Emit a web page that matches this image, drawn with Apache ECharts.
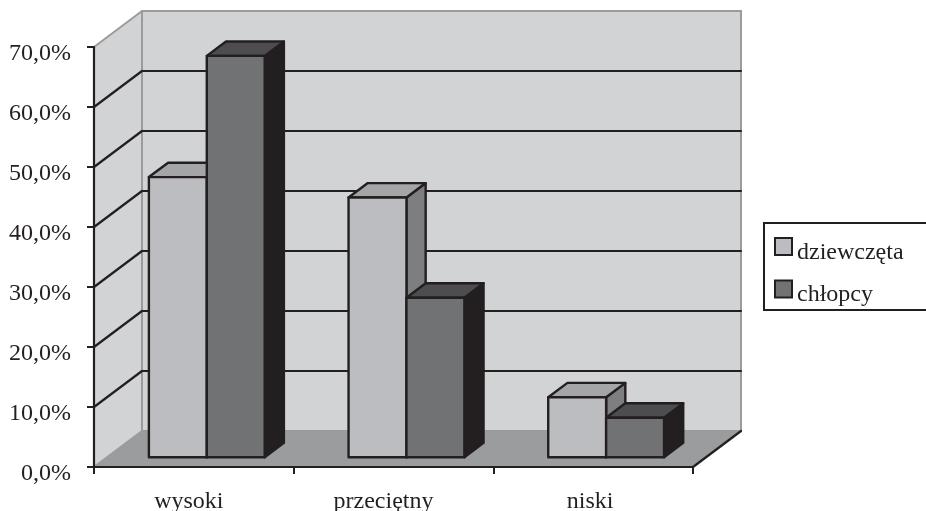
<!DOCTYPE html>
<html>
<head>
<meta charset="utf-8">
<style>html,body{margin:0;padding:0;background:#fff}#chart{width:926px;height:511px}</style>
<script src="https://cdn.jsdelivr.net/npm/echarts@6/dist/echarts.min.js"></script>
</head>
<body>
<div id="chart"></div>
<script>
const categories = ['wysoki', 'przeciętny', 'niski'];
const dziewczeta = [46.7, 43.3, 10.0];
const chlopcy = [66.9, 26.6, 6.6];
const gridValues = [10, 20, 30, 40, 50, 60];

const INK = '#231f20';
const EDGE = '#9a9b9d';
const WALL = '#d2d3d5';
const FLOOR = '#9b9c9e';
// Oblique projection of the box: how far the back plane is pushed from the front plane.
const DEPTH_X = 48, DEPTH_Y = 36;
const BAR_NEAR = 0.27, BAR_DEPTH = 0.4;
const FONT = '"Liberation Serif", serif';

function line(x1, y1, x2, y2, stroke, width) {
  return { type: 'line', shape: { x1, y1, x2, y2 }, style: { stroke, lineWidth: width, lineCap: 'round' } };
}
function poly(points, fill, stroke) {
  return {
    type: 'polygon', shape: { points },
    style: { fill, stroke: stroke || 'none', lineWidth: stroke ? 2.4 : 0, lineJoin: 'round' }
  };
}

// Left wall, back wall, floor and gridlines of the box.
function renderBox(params, api) {
  const cs = params.coordSys;
  const L = cs.x, R = cs.x + cs.width, T = cs.y, B = cs.y + cs.height;
  const children = [
    poly([[L, B], [L + DEPTH_X, B - DEPTH_Y], [L + DEPTH_X, T - DEPTH_Y], [L, T]], WALL),
    poly([[L + DEPTH_X, B - DEPTH_Y], [R + DEPTH_X, B - DEPTH_Y], [R + DEPTH_X, T - DEPTH_Y], [L + DEPTH_X, T - DEPTH_Y]], WALL),
    poly([[L, B], [R, B], [R + DEPTH_X, B - DEPTH_Y], [L + DEPTH_X, B - DEPTH_Y]], FLOOR),
    line(L, T, L + DEPTH_X, T - DEPTH_Y, EDGE, 2),
    line(L + DEPTH_X, T - DEPTH_Y, R + DEPTH_X, T - DEPTH_Y, EDGE, 2),
    line(L + DEPTH_X, T - DEPTH_Y, L + DEPTH_X, B - DEPTH_Y, EDGE, 2),
    line(R + DEPTH_X, T - DEPTH_Y, R + DEPTH_X, B - DEPTH_Y, EDGE, 2),
    line(L + DEPTH_X, B - DEPTH_Y, R + DEPTH_X, B - DEPTH_Y, EDGE, 2),
    line(L, B, L + DEPTH_X, B - DEPTH_Y, EDGE, 2),
    line(R, B, R + DEPTH_X, B - DEPTH_Y, INK, 2.2)
  ];
  gridValues.forEach(v => {
    const y = api.coord([0, v])[1];
    children.push(line(L, y, L + DEPTH_X, y - DEPTH_Y, INK, 2.2));
    children.push(line(L + DEPTH_X, y - DEPTH_Y, R + DEPTH_X, y - DEPTH_Y, INK, 2.2));
  });
  return { type: 'group', children };
}

// One prism: offset is the bar's slot relative to the category centre (-1 left, 0 right).
function prismRenderer(offset, front, top, side) {
  return function (params, api) {
    const cat = api.value(0);
    const base = api.coord([cat, 0]);
    const head = api.coord([cat, api.value(1)]);
    const w = api.size([1, 0])[0] * 0.29;
    const sx = DEPTH_X * BAR_NEAR, sy = DEPTH_Y * BAR_NEAR;
    const dx = DEPTH_X * BAR_DEPTH, dy = DEPTH_Y * BAR_DEPTH;
    const x0 = base[0] + sx + offset * w, x1 = x0 + w;
    const y0 = base[1] - sy, y1 = head[1] - sy;
    return {
      type: 'group',
      children: [
        poly([[x1, y0], [x1 + dx, y0 - dy], [x1 + dx, y1 - dy], [x1, y1]], side, INK),
        poly([[x0, y1], [x1, y1], [x1 + dx, y1 - dy], [x0 + dx, y1 - dy]], top, INK),
        poly([[x0, y0], [x1, y0], [x1, y1], [x0, y1]], front, INK)
      ]
    };
  };
}

const chart = echarts.init(document.getElementById('chart'), null, { renderer: 'canvas' });
chart.setOption({
  animation: false,
  backgroundColor: '#fff',
  grid: { left: 94, right: 233, top: 47, bottom: 44, containLabel: false, outerBoundsMode: 'none' },
  xAxis: {
    type: 'category',
    z: 5,
    data: [
      { value: categories[0], textStyle: { padding: [0, 10, 0, 0] } },
      { value: categories[1], textStyle: { padding: [0, 20, 0, 0] } },
      { value: categories[2], textStyle: { padding: [0, 6, 0, 0] } }
    ],
    axisLine: { show: true, lineStyle: { color: INK, width: 2.2 } },
    axisTick: { show: true, length: 7, alignWithLabel: false, lineStyle: { color: INK, width: 2 } },
    axisLabel: { color: INK, fontFamily: FONT, fontSize: 24, margin: 23, interval: 0 },
    splitLine: { show: false }
  },
  yAxis: {
    type: 'value',
    z: 5,
    min: 0, max: 70, interval: 10,
    axisLine: { show: true, lineStyle: { color: INK, width: 2.2 } },
    axisTick: { show: true, length: 7, lineStyle: { color: INK, width: 2 } },
    axisLabel: {
      color: INK, fontFamily: FONT, fontSize: 24, margin: 23,
      formatter: v => '{v|' + v.toFixed(1).replace('.', ',') + '%}',
      rich: { v: { color: INK, fontFamily: FONT, fontSize: 24, padding: [13, 0, 0, 0] } }
    },
    splitLine: { show: false }
  },
  legend: {
    left: 764, top: 223,
    orient: 'vertical',
    padding: [14, 24, 3, 10],
    itemGap: 15,
    itemWidth: 17, itemHeight: 17,
    icon: 'rect',
    borderColor: INK, borderWidth: 2,
    formatter: name => '{t|' + name + '}',
    textStyle: {
      color: INK, fontFamily: FONT, fontSize: 24,
      rich: { t: { color: INK, fontFamily: FONT, fontSize: 24, padding: [12, 0, 0, 0] } }
    },
    data: ['dziewczęta', 'chłopcy']
  },
  series: [
    {
      type: 'custom', name: 'box', coordinateSystem: 'cartesian2d', clip: false, silent: true, z: 1,
      data: [[0, 0]], renderItem: renderBox
    },
    {
      type: 'custom', name: 'dziewczęta', coordinateSystem: 'cartesian2d', clip: false, z: 2,
      itemStyle: { color: '#bcbdc0', borderColor: INK, borderWidth: 2 },
      data: dziewczeta.map((v, i) => [i, v]),
      encode: { x: 0, y: 1 },
      renderItem: prismRenderer(-1, '#bcbdc0', '#a3a5a7', '#7d7e80')
    },
    {
      type: 'custom', name: 'chłopcy', coordinateSystem: 'cartesian2d', clip: false, z: 3,
      itemStyle: { color: '#717274', borderColor: INK, borderWidth: 2 },
      data: chlopcy.map((v, i) => [i, v]),
      encode: { x: 0, y: 1 },
      renderItem: prismRenderer(0, '#717274', '#4d4d4f', INK)
    }
  ]
});
</script>
</body>
</html>
